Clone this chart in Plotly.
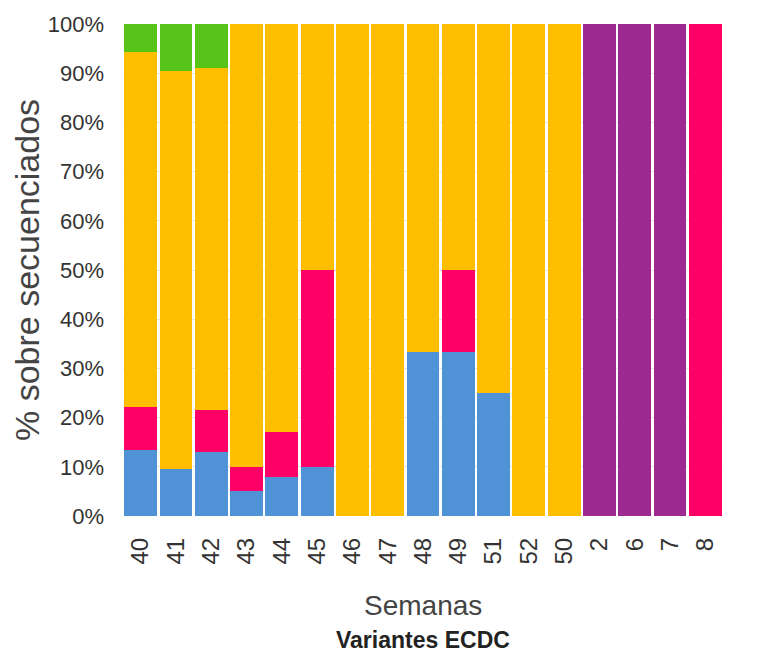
import plotly.graph_objects as go

weeks = ["40", "41", "42", "43", "44", "45", "46", "47", "48", "49", "51", "52", "50", "2", "6", "7", "8"]
blue =   [13.5, 9.5, 13.0, 5.0, 8.0, 10.0, 0, 0, 33.3, 33.3, 25.0, 0, 0, 0, 0, 0, 0]
pink =   [8.7, 0, 8.5, 5.0, 9.0, 40.0, 0, 0, 0, 16.7, 0, 0, 0, 0, 0, 0, 100]
orange = [72.1, 81.0, 69.5, 90.0, 83.0, 50.0, 100, 100, 66.7, 50.0, 75.0, 100, 100, 0, 0, 0, 0]
green =  [5.7, 9.5, 9.0, 0, 0, 0, 0, 0, 0, 0, 0, 0, 0, 0, 0, 0, 0]
purple = [0, 0, 0, 0, 0, 0, 0, 0, 0, 0, 0, 0, 0, 100, 100, 100, 0]

series = [
    ("Azul", blue, "#4f93d6"),
    ("Rosa", pink, "#ff0066"),
    ("Naranja", orange, "#ffbe00"),
    ("Verde", green, "#58c41a"),
    ("Morado", purple, "#9c2a90"),
]

fig = go.Figure()
for name, vals, col in series:
    fig.add_trace(go.Bar(x=weeks, y=vals, name=name, marker=dict(color=col, line=dict(width=0))))

fig.update_layout(
    barmode="stack",
    bargap=0.07,
    width=780, height=652,
    margin=dict(l=115, r=65, t=16, b=144),
    paper_bgcolor="white", plot_bgcolor="white",
    showlegend=False,
    font=dict(family="Liberation Sans", color="#333333"),
    xaxis=dict(type="category", tickangle=-90, tickfont=dict(size=24, family="Liberation Sans", color="#333"),
               showgrid=False, ticks="", ticklabelstandoff=16, automargin=False),
    yaxis=dict(range=[0, 100], dtick=10, ticksuffix="%", tickfont=dict(size=22, family="Liberation Sans", color="#333"),
               gridcolor="#e4e4e4", zeroline=False, ticks="", ticklabelstandoff=18, automargin=False),
)
fig.add_annotation(text="% sobre secuenciados", textangle=-90, x=-0.16, y=0.5, xref="paper", yref="paper",
                   showarrow=False, xanchor="center", yanchor="middle",
                   font=dict(size=34, family="Liberation Sans", color="#444"))
fig.add_annotation(text="Semanas", x=0.5, y=-0.181, xref="paper", yref="paper",
                   showarrow=False, yanchor="middle", font=dict(size=28, family="Liberation Sans", color="#444"))
fig.add_annotation(text="<b>Variantes ECDC</b>", x=0.5, y=-0.252, xref="paper", yref="paper",
                   showarrow=False, yanchor="middle", font=dict(size=23, family="Liberation Sans", color="#222"))
fig.write_html("out.html")
